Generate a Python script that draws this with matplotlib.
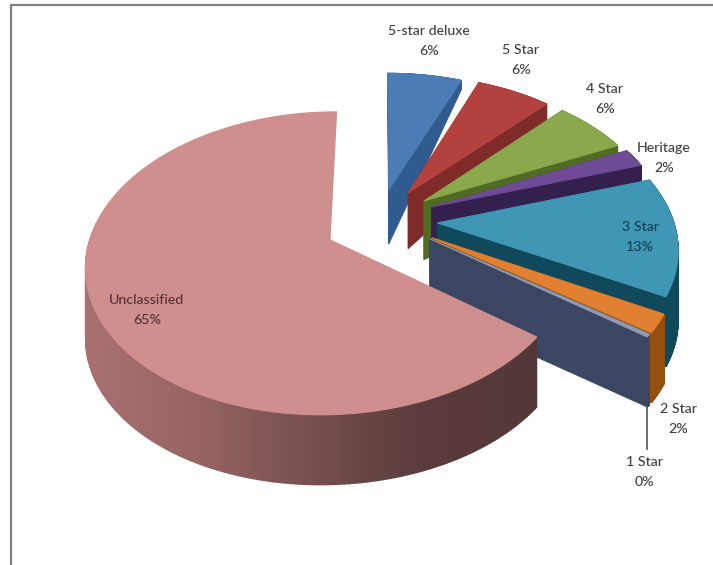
import numpy as np
import matplotlib
matplotlib.use("Agg")
import matplotlib.pyplot as plt

labels = ['5-star deluxe', '5 Star', '4 Star', 'Heritage', '3 Star', '2 Star', '1 Star', 'Unclassified']
values = [6, 6, 6, 2, 13, 2, 0.3, 65]
percent_labels = ['6%', '6%', '6%', '2%', '13%', '2%', '0%', '65%']

top_colors = ['#4a7cb5', '#b3423f', '#8ba84c', '#6f4b95', '#3f97b5', '#e08030', '#8c9cb8', '#cf8f8e']
side_colors = ['#2f5b8e', '#7e2b29', '#4f6b24', '#33204f', '#10495c', '#95500f', '#3c4662', '#5a3434']
text_colors = ['#3f3f3f', '#3f3f3f', '#3f3f3f', '#3f3f3f', '#0f4050', '#3f3f3f', '#3f3f3f', '#55303a']
text_pos = [(429, 41), (521, 60), (605, 99), (664, 158), (640, 237), (678, 419), (644, 472), (147, 310)]

# look of the 3d pie, in pixels
cx, cy = 378, 221
rx, ry = 236, 143
persp = 0.152
explode = 0.23
shift_x = [1, 2, 3, 4, 5, 7, 7, 1]
shift_y = [0, -1, -1, -2, -1, -1, -2, 4]


def project(x, y):
    s = 1 / (1 + persp * y)
    return cx + rx * x * s, cy - ry * y * s


def depth(y):
    return np.minimum(70, 65 - 48 * y)


def shade_pink(x):
    # wall of the big slice gets darker to the right
    r = np.interp(x, [85, 200, 300, 420, 535], [170, 150, 122, 90, 84])
    return (r / 255, r * 0.66 / 255, r * 0.66 / 255)


fig = plt.figure(figsize=(7.13, 5.65), dpi=100)
ax = fig.add_axes([0, 0, 1, 1])
ax.set_xlim(0, 713)
ax.set_ylim(565, 0)
ax.axis('off')

total = sum(values)
start = 90.0
for i in range(len(values)):
    span = values[i] / total * 360
    a = np.radians(np.linspace(start, start - span, 300))
    mid = np.radians(start - span / 2)
    start -= span

    ox, oy = explode * np.cos(mid), explode * np.sin(mid)
    ux = np.concatenate([[ox], ox + np.cos(a), [ox]])
    uy = np.concatenate([[oy], oy + np.sin(a), [oy]])
    px, py = project(ux, uy)
    px = px + shift_x[i]
    py = py + shift_y[i]
    d = depth(uy)

    big = labels[i] == 'Unclassified'
    # walls first, the top goes over them
    # big slice: only the front of the arc shows
    for j in range(1, len(px) - 2) if big else range(len(px) - 1):
        if big and uy[j] > 0:
            continue
        c = shade_pink((px[j] + px[j + 1]) / 2) if big else side_colors[i]
        ax.fill([px[j], px[j + 1], px[j + 1], px[j]],
                [py[j], py[j + 1], py[j + 1] + d[j + 1], py[j] + d[j]],
                color=c, lw=1.1 if big else 0.6, zorder=2 * i + 1)
    ax.fill(px, py, color=top_colors[i], lw=1.2 if big else 0.7, zorder=2 * i + 2)

    if labels[i] == '1 Star':
        ax.plot([px[-2], px[-2]], [py[-2] + d[-2], py[-2] + d[-2] + 42],
                color='#555555', lw=1.2, zorder=30)

for i in range(len(labels)):
    ax.text(text_pos[i][0], text_pos[i][1], labels[i] + '\n' + percent_labels[i],
            ha='center', va='center', fontsize=10.2, color=text_colors[i],
            family='Lato', fontweight='medium', linespacing=1.75, zorder=40)

# frame of the screenshot
ax.plot([10.5, 10.5, 713], [565, 5, 5], color='#808080', lw=1.6, zorder=50)

fig.savefig('out.png', dpi=100)
